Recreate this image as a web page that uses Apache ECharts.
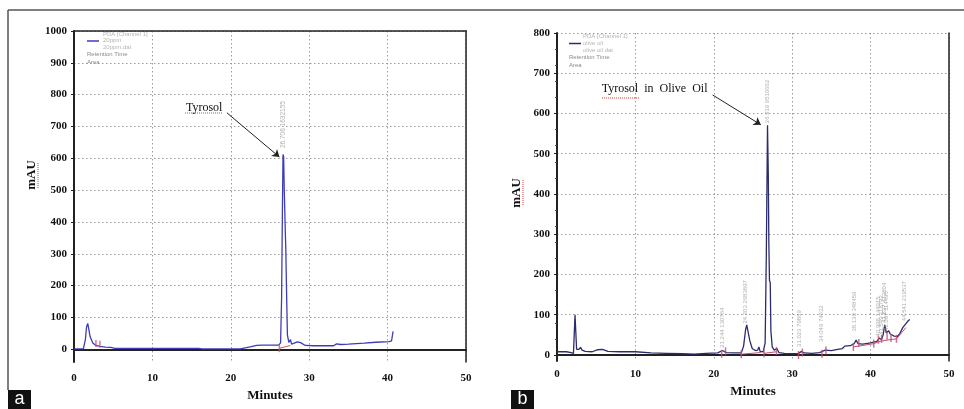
<!DOCTYPE html>
<html lang="en">
<head>
<meta charset="UTF-8">
<title>Tyrosol HPLC</title>
<script src="https://cdn.jsdelivr.net/npm/echarts@6/dist/echarts.min.js"></script>
<style>
  html, body { margin: 0; background: #fff; }
  #chart { width: 964px; height: 409px; }
</style>
</head>
<body>
<div id="chart"></div>
<script>
  // ---- panel a : 20 ppm standard ----
  var timeA = [0, 0.6, 1.2, 1.45, 1.6, 1.75, 1.9, 2.05, 2.4, 2.8, 3.3, 4, 4.7, 5.2, 8, 12, 15.9, 16.3, 18, 21.2, 22, 22.6, 23.3, 24, 25, 26.1, 26.35, 26.48, 26.58, 26.66, 26.74, 26.82, 26.92, 27.02, 27.12, 27.22, 27.4, 27.55, 27.62, 27.75, 28.0, 28.5, 28.9, 29.5, 30.5, 32, 33.1, 33.5, 34, 35, 37, 38.5, 40.2, 40.5, 40.7];
  var signalA = [1, 1, 2, 30, 70, 81, 62, 40, 20, 12, 9, 7, 6, 3, 3, 3, 3, 1, 1, 1, 5, 8, 12, 13, 13, 13, 20, 160, 430, 612, 605, 500, 400, 310, 170, 45, 22, 20, 30, 16, 16, 23, 21, 12, 11, 11, 11, 17, 15, 16, 19, 22, 24, 26, 56];
  var baseTimeA = [26.2, 27.6];
  var baseValueA = [3, 12];
  var tickTimeA = [2.8, 3.3, 26.2];
  var tickValueA = [18, 16, 2];
  var peakA = [[26.67, 632, '26.706 1632155']];

  // ---- panel b : olive oil ----
  var timeB = [0, 1.2, 1.8, 2.1, 2.2, 2.3, 2.4, 2.5, 2.8, 3.0, 3.2, 3.6, 4.5, 5.2, 5.8, 6.5, 8, 10, 12, 14, 16, 17.5, 19, 20.5, 21.1, 21.3, 21.6, 22.5, 23.5, 23.8, 24.05, 24.2, 24.35, 24.6, 24.9, 25.3, 25.6, 25.75, 25.9, 26.3, 26.55, 26.7, 26.85, 26.95, 27.02, 27.1, 27.2, 27.28, 27.45, 27.7, 27.95, 28.05, 28.3, 29, 30, 30.8, 31.2, 31.5, 32.5, 33.5, 34.2, 35, 35.8, 36.4, 36.7, 37.4, 37.9, 38.15, 38.4, 39, 40, 40.8, 41.1, 41.4, 41.6, 41.8, 42.0, 42.3, 42.5, 43, 43.4, 43.7, 44.1, 44.5, 44.8, 45.0];
  var signalB = [8, 8, 6, 4, 8, 100, 100, 14, 14, 19, 12, 9, 8, 13, 14, 9, 8, 8, 5, 4, 3, 2, 4, 5, 11, 13, 6, 5, 5, 22, 62, 75, 60, 35, 16, 11, 12, 20, 9, 8, 30, 250, 571, 450, 280, 185, 180, 60, 20, 12, 10, 16, 6, 4, 3, 4, 9, 5, 4, 6, 12, 11, 14, 16, 22, 23, 28, 37, 28, 27, 30, 34, 42, 38, 50, 75, 55, 60, 52, 47, 46, 52, 68, 78, 85, 88];
  var baseTimeB = [23.5, 26.0, 26.0, 26.4, 28.0, 28.0, 37.8, 40.4, 41.2, 42.5, 43.3, 44.5];
  var baseValueB = [2, 6, '-', 4, 8, '-', 20, 28, 34, 38, 40, 68];
  var tickTimeB = [21.0, 21.5, 23.5, 26.4, 28.0, 30.8, 31.3, 33.8, 34.3, 37.8, 38.5, 40.4, 41.0, 41.4, 42.1, 42.6, 43.3];
  var tickValueB = [3, 9, 2, 4, 10, 0, 6, 3, 11, 20, 30, 28, 38, 40, 48, 42, 40];
  var peakB = [
    [21.1, 18, '21.244 130764'],
    [24.05, 78, '24.203 2683897'],
    [26.88, 576, '26.919 9510662'],
    [30.85, 20, '31.023 79869'],
    [33.7, 32, '34.049 74032'],
    [37.9, 58, '38.139 348459'],
    [41.05, 46, '40.998 144915'],
    [41.35, 50, '41.549 118742'],
    [41.7, 80, '41.837 412804'],
    [41.95, 60, '42.097 114436'],
    [44.3, 84, '44.541 219537']
  ];

  var xTicks = [0, 10, 20, 30, 40, 50];
  var yTicksA = [0, 100, 200, 300, 400, 500, 600, 700, 800, 900, 1000];
  var yTicksB = [0, 100, 200, 300, 400, 500, 600, 700, 800];

  function zip(xs, ys) {
    return xs.map(function (x, i) { return [x, ys[i]]; });
  }

  var serif = 'Liberation Serif';
  var gridDots = { color: '#9a9a9a', type: [1.5, 2.5], width: 1 };
  var boldLabel = {
    fontFamily: serif, fontWeight: 'bold', fontSize: 11, color: '#111',
    formatter: function (v) { return String(v); }
  };

  function xAxisFor(grid) {
    return {
      type: 'value', gridIndex: grid, min: 0, max: 50, interval: 10,
      axisLine: { lineStyle: { color: '#222', width: 2 } },
      axisTick: { show: false },
      axisLabel: Object.assign({ margin: grid === 0 ? 11 : 8, customValues: xTicks }, boldLabel),
      splitLine: { show: true, lineStyle: gridDots },
      name: 'Minutes', nameLocation: 'middle', nameGap: grid === 0 ? 24 : 17,
      nameTextStyle: { fontFamily: serif, fontWeight: 'bold', fontSize: 13, color: '#111' }
    };
  }

  function yAxisFor(grid, min, max, ticks, minor) {
    return {
      type: 'value', gridIndex: grid, min: min, max: max,
      axisLine: { show: true, lineStyle: { color: '#222', width: 2 } },
      axisTick: { show: true, length: 3, customValues: ticks, lineStyle: { color: '#222' } },
      minorTick: { show: minor, splitNumber: 5, length: 2, lineStyle: { color: '#444' } },
      axisLabel: Object.assign({ margin: 7, customValues: ticks }, boldLabel),
      splitLine: { show: true, lineStyle: gridDots }
    };
  }

  function frameAxis(grid, pos) {
    return {
      type: 'value', gridIndex: grid, position: pos,
      axisLine: { show: true, onZero: false, lineStyle: { color: '#222', width: 1.5 } },
      axisTick: { show: false }, axisLabel: { show: false }, splitLine: { show: false }
    };
  }

  function peakLabels(xi, yi, data, size) {
    return {
      type: 'scatter', xAxisIndex: xi, yAxisIndex: yi, data: data,
      symbolSize: 0, silent: true, z: 5,
      label: {
        show: true, position: 'top', distance: 0, rotate: 90,
        align: 'left', verticalAlign: 'middle',
        fontFamily: 'Liberation Sans', fontSize: size, color: '#9a9a9a',
        formatter: function (p) { return p.value[2]; }
      }
    };
  }

  function annotation(text, at, from, to) {
    return {
      markPoint: {
        silent: true, symbol: 'circle', symbolSize: 0,
        label: { show: true, position: 'inside', fontFamily: serif, fontSize: 12, color: '#111', formatter: '{c}' },
        data: [{ coord: at, value: text }]
      },
      markLine: {
        silent: true, symbol: ['none', 'arrow'], symbolSize: 7,
        lineStyle: { color: '#222', width: 1, type: 'solid' },
        label: { show: false },
        data: [[{ coord: from }, { coord: to }]]
      }
    };
  }

  var chart = echarts.init(document.getElementById('chart'), null, { renderer: 'canvas' });

  var lineA = Object.assign({
    type: 'line', xAxisIndex: 0, yAxisIndex: 0, data: zip(timeA, signalA),
    showSymbol: false, lineStyle: { color: '#3d3db8', width: 1.3 }, z: 3
  }, annotation('Tyrosol', [16.6, 760], [19.5, 743], [26.2, 604]));

  var lineB = Object.assign({
    type: 'line', xAxisIndex: 2, yAxisIndex: 2, data: zip(timeB, signalB),
    showSymbol: false, lineStyle: { color: '#2b2b6e', width: 1.3 }, z: 3
  }, annotation('Tyrosol  in  Olive  Oil', [12.45, 660], [19.85, 646], [26.0, 572]));

  var option = {
    animation: false,
    backgroundColor: '#fff',
    grid: [
      { left: 74, top: 31, right: 498, bottom: 47 },
      { left: 557, top: 33, right: 15, bottom: 48 }
    ],
    xAxis: [
      xAxisFor(0),
      frameAxis(0, 'top'),
      xAxisFor(1)
    ],
    yAxis: [
      yAxisFor(0, -40, 1000, yTicksA, false),
      frameAxis(0, 'right'),
      yAxisFor(1, -15, 800, yTicksB, true),
      frameAxis(1, 'right')
    ],
    series: [
      lineA,
      {
        type: 'line', xAxisIndex: 0, yAxisIndex: 0, data: zip(baseTimeA, baseValueA),
        showSymbol: false, lineStyle: { color: '#d0556a', width: 1 }, z: 4
      },
      {
        type: 'scatter', xAxisIndex: 0, yAxisIndex: 0, data: zip(tickTimeA, tickValueA),
        symbol: 'rect', symbolSize: [1.5, 7], itemStyle: { color: '#d0556a' }, z: 4
      },
      peakLabels(0, 0, peakA, 6.5),
      lineB,
      {
        type: 'line', xAxisIndex: 2, yAxisIndex: 2, data: zip(baseTimeB, baseValueB),
        showSymbol: false, lineStyle: { color: '#c0506a', width: 1 }, z: 4
      },
      {
        type: 'scatter', xAxisIndex: 2, yAxisIndex: 2, data: zip(tickTimeB, tickValueB),
        symbol: 'rect', symbolSize: [1.5, 8], itemStyle: { color: '#c0506a' }, z: 4
      },
      peakLabels(2, 2, peakB, 6)
    ],
    graphic: [
      // figure frame
      { type: 'line', shape: { x1: 8, y1: 10, x2: 964, y2: 10 }, style: { stroke: '#555', lineWidth: 1.5 } },
      { type: 'line', shape: { x1: 8, y1: 10, x2: 8, y2: 390 }, style: { stroke: '#555', lineWidth: 1.5 } },
      // panel tags
      { type: 'rect', shape: { x: 8, y: 390, width: 23, height: 19 }, style: { fill: '#111' } },
      { type: 'text', x: 19.5, y: 399, style: { text: 'a', fill: '#fff', font: '18px Liberation Sans', align: 'center', verticalAlign: 'middle' } },
      { type: 'rect', shape: { x: 511, y: 390, width: 23, height: 19 }, style: { fill: '#111' } },
      { type: 'text', x: 522.5, y: 399, style: { text: 'b', fill: '#fff', font: '18px Liberation Sans', align: 'center', verticalAlign: 'middle' } },
      // y axis titles
      { type: 'text', x: 32, y: 175, rotation: Math.PI / 2, style: { text: 'mAU', fill: '#111', font: 'bold 13px Liberation Serif', align: 'center', verticalAlign: 'middle' } },
      { type: 'line', shape: { x1: 38, y1: 163, x2: 38, y2: 188 }, style: { stroke: '#d04040', lineWidth: 1, lineDash: [1, 1] } },
      { type: 'text', x: 517, y: 193, rotation: Math.PI / 2, style: { text: 'mAU', fill: '#111', font: 'bold 13px Liberation Serif', align: 'center', verticalAlign: 'middle' } },
      { type: 'line', shape: { x1: 523, y1: 180, x2: 523, y2: 206 }, style: { stroke: '#d04040', lineWidth: 1, lineDash: [1, 1] } },
      // spell-check underlines below annotations
      { type: 'line', shape: { x1: 185, y1: 113, x2: 223, y2: 113 }, style: { stroke: '#d04040', lineWidth: 1, lineDash: [1, 1] } },
      { type: 'line', shape: { x1: 602, y1: 98, x2: 639, y2: 98 }, style: { stroke: '#d04040', lineWidth: 1, lineDash: [1, 1] } },
      // instrument legend a
      { type: 'line', shape: { x1: 87, y1: 41, x2: 99, y2: 41 }, style: { stroke: '#3d3db8', lineWidth: 1.5 } },
      { type: 'text', x: 103, y: 34, style: { text: 'PDA [Channel 1]', fill: '#b4b4b4', font: '6px Liberation Sans', verticalAlign: 'middle' } },
      { type: 'text', x: 103, y: 40.5, style: { text: '20ppm', fill: '#b4b4b4', font: '6px Liberation Sans', verticalAlign: 'middle' } },
      { type: 'text', x: 103, y: 47, style: { text: '20ppm.dat', fill: '#b4b4b4', font: '6px Liberation Sans', verticalAlign: 'middle' } },
      { type: 'text', x: 87, y: 54.5, style: { text: 'Retention Time', fill: '#8a8a8a', font: '6px Liberation Sans', verticalAlign: 'middle' } },
      { type: 'text', x: 87, y: 62.5, style: { text: 'Area', fill: '#8a8a8a', font: '6px Liberation Sans', verticalAlign: 'middle' } },
      // instrument legend b
      { type: 'line', shape: { x1: 569, y1: 43.5, x2: 581, y2: 43.5 }, style: { stroke: '#2b2b6e', lineWidth: 1.5 } },
      { type: 'text', x: 583, y: 36, style: { text: 'PDA [Channel 1]', fill: '#b4b4b4', font: '6px Liberation Sans', verticalAlign: 'middle' } },
      { type: 'text', x: 583, y: 43.3, style: { text: 'olive oil', fill: '#b4b4b4', font: '6px Liberation Sans', verticalAlign: 'middle' } },
      { type: 'text', x: 583, y: 50.7, style: { text: 'olive oil.dat', fill: '#b4b4b4', font: '6px Liberation Sans', verticalAlign: 'middle' } },
      { type: 'text', x: 569, y: 57.7, style: { text: 'Retention Time', fill: '#8a8a8a', font: '6px Liberation Sans', verticalAlign: 'middle' } },
      { type: 'text', x: 569, y: 65.7, style: { text: 'Area', fill: '#8a8a8a', font: '6px Liberation Sans', verticalAlign: 'middle' } }
    ]
  };

  chart.setOption(option);
  window.addEventListener('resize', chart.resize);
</script>
</body>
</html>
